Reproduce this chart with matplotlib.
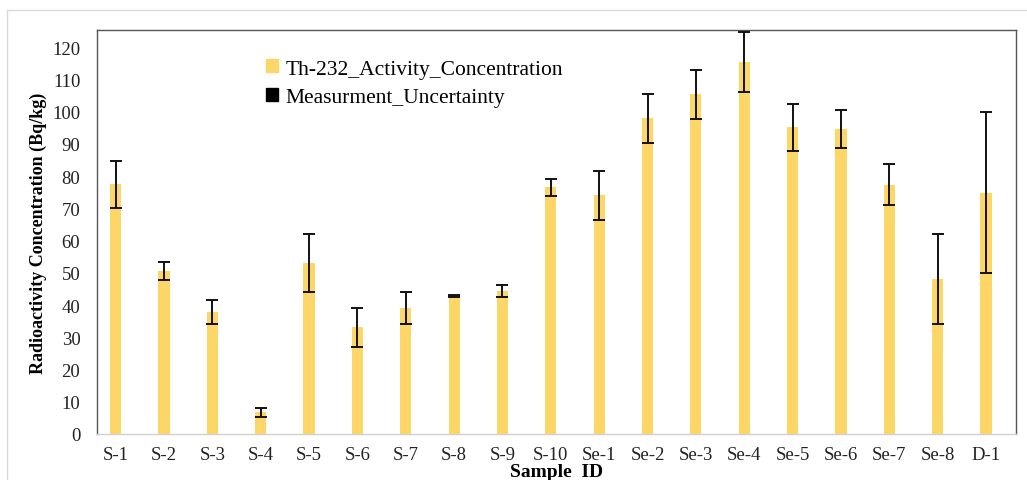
import matplotlib.pyplot as plt
from matplotlib.patches import Patch, Rectangle

samples = ['S-1', 'S-2', 'S-3', 'S-4', 'S-5', 'S-6', 'S-7', 'S-8', 'S-9', 'S-10',
           'Se-1', 'Se-2', 'Se-3', 'Se-4', 'Se-5', 'Se-6', 'Se-7', 'Se-8', 'D-1']
th232 = [77.5, 50.6, 37.9, 6.7, 53.0, 33.1, 39.0, 42.7, 44.4, 76.5,
         74.1, 98.0, 105.4, 115.4, 95.1, 94.6, 77.3, 48.1, 74.9]
uncertainty = [7.3, 2.8, 3.8, 1.3, 9.0, 6.0, 5.0, 0.3, 1.8, 2.7,
               7.6, 7.6, 7.6, 9.2, 7.3, 5.8, 6.3, 14.0, 25.0]

plt.rcParams['font.family'] = ['Liberation Serif', 'DejaVu Serif']

fig = plt.figure(figsize=(10.27, 4.81), dpi=100)
ax = fig.add_axes([97 / 1027, 1 - 435 / 481, (1016 - 97) / 1027, (435 - 31) / 481])

# light frame around the chart area
fig.patches.append(Rectangle((7 / 1027, -0.1), 1.1, 1 - 11 / 481 + 0.1,
                             transform=fig.transFigure, fill=False,
                             edgecolor='#d9d9d9', linewidth=1.0))

bar_color = '#FDD668'
x = range(len(samples))
ax.bar(x, th232, width=0.23, color=bar_color, zorder=2)
ax.errorbar(x, th232, yerr=uncertainty, fmt='none', ecolor='#111111',
            elinewidth=1.4, capsize=4, capthick=1.4, zorder=3)

ax.set_xlim(-0.385, 18.62)
ax.set_ylim(0, 125.3)
ax.set_yticks(range(0, 121, 10))
ax.set_xticks(list(x))
ax.set_xticklabels(samples)
ax.tick_params(axis='both', length=0, labelsize=13.5, colors='#222222')
ax.tick_params(axis='x', pad=9)
ax.tick_params(axis='y', pad=12)

for side in ['left', 'top', 'right']:
    ax.spines[side].set_color('#555555')
    ax.spines[side].set_linewidth(1.0)
ax.spines['bottom'].set_color('#d0d0d0')
ax.spines['bottom'].set_linewidth(1.0)

ax.set_ylabel('Radioactivity Concentration (Bq/kg)', fontsize=13,
              fontweight='bold', labelpad=4)
ax.set_xlabel('Sample  ID', fontsize=14, fontweight='bold')
ax.xaxis.set_label_coords(0.5, -0.071)

handles = [Patch(color=bar_color), Patch(color='black')]
ax.legend(handles, ['Th-232_Activity_Concentration', 'Measurment_Uncertainty'],
          loc='upper left', bbox_to_anchor=(0.163, 0.975), frameon=False,
          fontsize=15.5, handlelength=0.55, handleheight=0.55, handletextpad=0.35,
          labelspacing=0.45)

fig.savefig('out.png', dpi=100)
